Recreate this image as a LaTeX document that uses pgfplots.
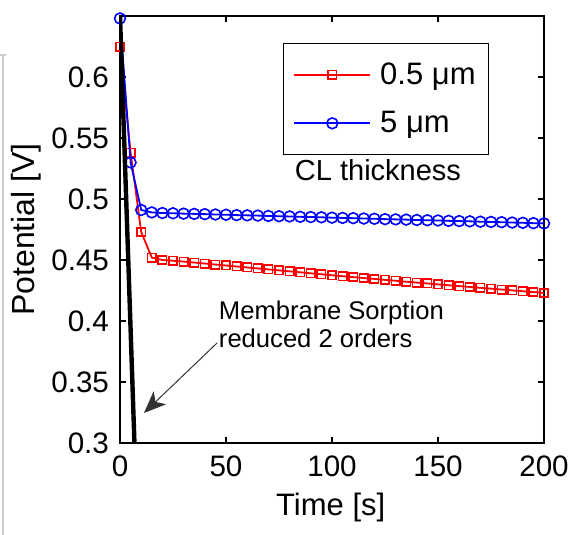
\documentclass[border=0pt]{standalone}
\usepackage{fontspec}
\setmainfont{Liberation Sans}
\usepackage{pgfplots}
\pgfplotsset{compat=1.18}
\usetikzlibrary{arrows.meta}
\begin{document}
\begin{tikzpicture}
\useasboundingbox (-60pt,-46pt) rectangle (229pt,221.5pt);
\draw[gray!40, line width=0.6pt] (-58.5pt,194pt) -- (-58.5pt,-46pt);
\draw[gray!40, line width=0.6pt] (-60pt,194pt) -- (-57pt,194pt);
\begin{axis}[
  at={(0pt,0pt)}, anchor=south west,
  scale only axis, width=212pt, height=213.5pt,
  xmin=0, xmax=200, ymin=0.3, ymax=0.65,
  xtick={0,50,100,150,200},
  xticklabels={0,50,100,150,200},
  ytick={0.3,0.35,0.4,0.45,0.5,0.55,0.6},
  yticklabels={0.3,0.35,0.4,0.45,0.5,0.55,0.6},
  tick align=inside, major tick length=3pt,
  tick style={black, line width=0.6pt},
  axis line style={line width=1pt},
  /pgf/number format/assume math mode=true,
  xticklabel style={font=\fontsize{14.8}{16}\selectfont, yshift=-3pt},
  yticklabel style={font=\fontsize{14.8}{16}\selectfont, xshift=-2pt},
  xlabel={Time [s]}, ylabel={Potential [V]},
  xlabel style={font=\fontsize{15.5}{17}\selectfont, at={(axis description cs:0.497,-0.152)}, anchor=center},
  ylabel style={font=\fontsize{16}{18}\selectfont, at={(axis description cs:-0.222,0.5)}, anchor=center},
  clip mode=individual,
  legend style={at={(rel axis cs:0.384,0.937)}, anchor=north west,
    draw=black, line width=0.6pt, fill=white, font=\fontsize{15.5}{16}\selectfont,
    row sep=9pt, inner xsep=5pt, inner ysep=8pt,
    nodes={inner sep=1.5pt}},
  legend cell align=left,
  legend image code/.code={
    \draw[mark repeat=2,mark phase=2] plot coordinates {(0pt,0pt) (19pt,0pt) (38pt,0pt)};
    \path (41pt,0pt);},
]
\addplot[red, line width=0.9pt, mark=square, mark size=2.1pt, mark options={solid, line width=0.8pt}] coordinates {
(0,0.625) (5,0.538) (10,0.473) (15,0.452) (20,0.4500) (25,0.4494) (30,0.4487) (35,0.4479)
(40,0.4471) (45,0.4463) (50,0.4455) (55,0.4447) (60,0.4439) (65,0.4431) (70,0.4423)
(75,0.4415) (80,0.4407) (85,0.4399) (90,0.4391) (95,0.4383) (100,0.4375) (105,0.4367)
(110,0.4360) (115,0.4352) (120,0.4345) (125,0.4337) (130,0.4330) (135,0.4322) (140,0.4315)
(145,0.4308) (150,0.4300) (155,0.4293) (160,0.4286) (165,0.4279) (170,0.4272) (175,0.4265)
(180,0.4258) (185,0.4251) (190,0.4244) (195,0.4237) (200,0.4230)};
\addlegendentry{0.5 μm}
\addplot[blue, line width=0.9pt, mark=o, mark size=2.7pt, mark options={solid, line width=0.8pt}] coordinates {
(0,0.648) (5,0.530) (10,0.491) (15,0.489) (20,0.4885) (25,0.4883) (30,0.4880) (35,0.4878)
(40,0.4876) (45,0.4873) (50,0.4871) (55,0.4868) (60,0.4866) (65,0.4864) (70,0.4861)
(75,0.4859) (80,0.4857) (85,0.4854) (90,0.4852) (95,0.4850) (100,0.4847) (105,0.4845)
(110,0.4843) (115,0.4840) (120,0.4838) (125,0.4835) (130,0.4833) (135,0.4831) (140,0.4828)
(145,0.4826) (150,0.4824) (155,0.4821) (160,0.4819) (165,0.4817) (170,0.4814) (175,0.4812)
(180,0.4810) (185,0.4807) (190,0.4805) (195,0.4802) (200,0.4800)};
\addlegendentry{5 μm}
\addplot[black, line width=2.2pt, forget plot] coordinates {(0,0.65) (7.2,0.28)};
\node[anchor=center, font=\fontsize{14.5}{16}\selectfont] at (axis cs:121.7,0.524) {CL thickness};
\node[anchor=north west, align=left, font=\fontsize{12.8}{14}\selectfont, inner sep=0pt] at (axis cs:46.5,0.417) {Membrane Sorption\\reduced 2 orders};
\draw[-{Stealth[length=11pt,width=9pt,inset=3pt]}, line width=0.5pt, black!80] (axis cs:45.8,0.382) -- (axis cs:11.3,0.3246);
\end{axis}
\end{tikzpicture}
\end{document}
